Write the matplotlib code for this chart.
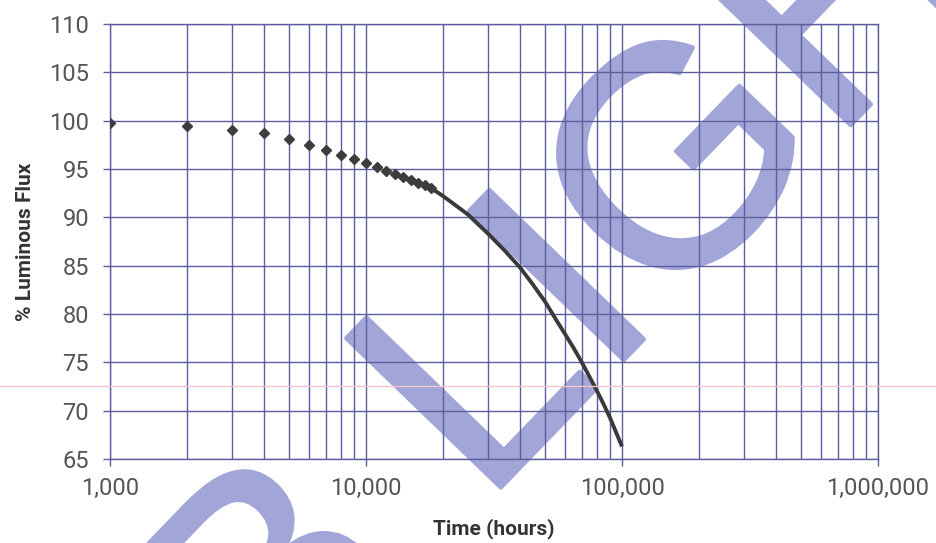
import matplotlib.pyplot as plt
import matplotlib.ticker as mticker
import matplotlib.patheffects as pe
from matplotlib.lines import Line2D

hours_measured = [1000, 2000, 3000, 4000, 5000, 6000, 7000, 8000, 9000, 10000,
                  11000, 12000, 13000, 14000, 15000, 16000, 17000, 18000]
flux_measured = [99.8, 99.4, 99.0, 98.7, 98.1, 97.5, 97.0, 96.5, 96.0, 95.6,
                 95.2, 94.8, 94.5, 94.2, 93.9, 93.6, 93.3, 93.0]

# projected curve
hours_projected = [18000, 20000, 25000, 30000, 35000, 40000, 45000, 50000,
                   55000, 60000, 65000, 70000, 75000, 80000, 85000, 90000,
                   95000, 100000]
flux_projected = [93.0, 92.2, 90.3, 88.3, 86.5, 84.8, 83.0, 81.3,
                  79.5, 77.9, 76.4, 74.9, 73.4, 72.0, 70.6, 69.2,
                  67.7, 66.3]

x_ticks = [1000, 10000, 100000, 1000000]
y_ticks = list(range(65, 111, 5))

grid_color = "#5e5e9e"
mark_color = "#a2a5d7"
W, H = 936, 543

fig = plt.figure(figsize=(W / 100, H / 100), dpi=100)
ax = fig.add_axes([110 / W, 1 - 459 / H, 768 / W, 435 / H])
ax.set_facecolor("none")

# watermark behind the axes
wm_style = dict(rotation=46, rotation_mode="anchor", va="baseline", fontsize=225,
                family="Liberation Sans", color=mark_color, zorder=-1)
wm_fx = [pe.Stroke(linewidth=3, foreground=mark_color, joinstyle="round"), pe.Normal()]
t1 = fig.text(414 / W, 1 - 578 / H, "B", ha="right", **wm_style)
t2 = fig.text(483 / W, 1 - 506 / H, "LIGHT", ha="left", **wm_style)
for t in (t1, t2):
    t.set_path_effects(wm_fx)

ax.set_xscale("log")
ax.set_xlim(1000, 1000000)
ax.set_ylim(65, 110)

ax.plot(hours_projected, flux_projected, color="#3a3a3a", lw=2.8,
        solid_capstyle="butt", zorder=3)
ax.plot(hours_measured, flux_measured, ls="none", marker="D", ms=5.6,
        color="#3d3d3d", zorder=4)

ax.set_xticks(x_ticks)
ax.xaxis.set_major_formatter(mticker.FuncFormatter(lambda v, p: f"{int(v):,}"))
ax.xaxis.set_minor_locator(mticker.LogLocator(base=10, subs=range(2, 10)))
ax.xaxis.set_minor_formatter(mticker.NullFormatter())
ax.set_yticks(y_ticks)

ax.grid(True, which="both", axis="x", color=grid_color, lw=1.0)
ax.grid(True, which="major", axis="y", color=grid_color, lw=1.0)
ax.set_axisbelow(True)

for s in ax.spines.values():
    s.set_color(grid_color)
    s.set_linewidth(1.0)

ax.tick_params(axis="x", which="major", length=5, width=1.0, color=grid_color,
               labelsize=17, labelcolor="#555555", pad=8)
ax.tick_params(axis="x", which="minor", length=0)
ax.tick_params(axis="y", length=5, width=1.0, color=grid_color,
               labelsize=17, labelcolor="#555555", pad=10)
for lbl in ax.get_xticklabels() + ax.get_yticklabels():
    lbl.set_family("Roboto")

ax.set_xlabel("Time (hours)", family="Roboto", fontweight="bold", fontsize=15,
              color="#333333", labelpad=13)
ax.set_ylabel("% Luminous Flux", family="Roboto", fontweight="bold", fontsize=15,
              color="#333333", labelpad=10)

# faint scan line across the page
fig.add_artist(Line2D([0, 1], [1 - 386 / H, 1 - 386 / H], transform=fig.transFigure,
                      color="#f2c4cc", lw=1.0, zorder=5))

fig.savefig("out.png", dpi=100)
